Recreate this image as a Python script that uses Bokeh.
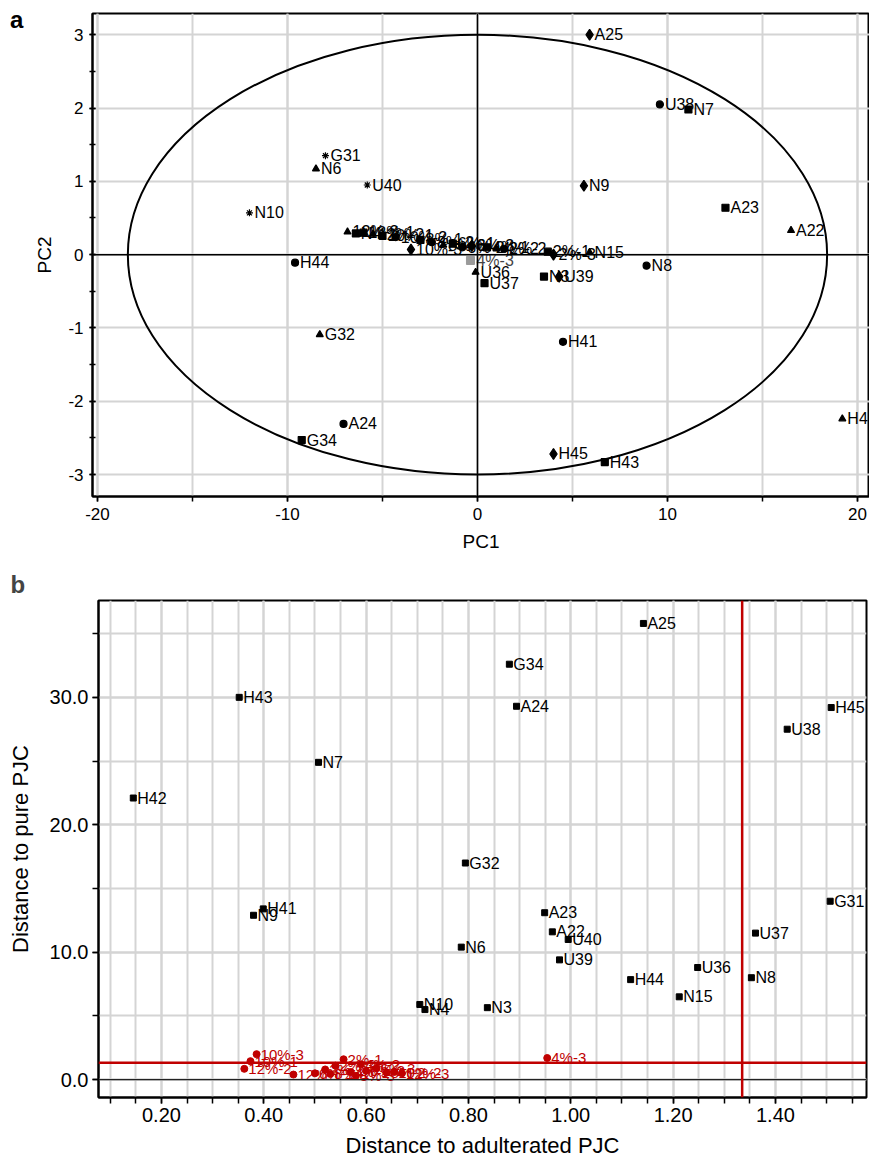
from bokeh.plotting import figure
from bokeh.layouts import column, row
from bokeh.models import (ColumnDataSource, Span, Title, Div, SingleIntervalTicker,
                          NumeralTickFormatter, Range1d)
from bokeh.embed import file_html
from bokeh.resources import INLINE
from bokeh.core.properties import value

FONT = "Liberation Sans"
RED = "#c00000"
GRID = "#d4d4d4"

# ---------------- panel a : PCA scores ----------------
pca_names = ["A25", "U38", "N7", "N9", "A23", "A22", "G31", "N6", "U40", "N10",
             "H44", "G32", "A24", "G34", "N8", "H41", "H45", "H43", "H42", "U36",
             "U37", "N3", "U39", "N4", "N15"]
pca_pc1 = [5.9, 9.6, 11.1, 5.6, 13.05, 16.5, -8.0, -8.5, -5.8, -12.0,
           -9.6, -8.3, -7.05, -9.25, 8.9, 4.5, 4.0, 6.7, 19.2, -0.1,
           0.37, 3.5, 4.3, -6.4, 5.9]
pca_pc2 = [3.0, 2.05, 1.98, 0.94, 0.64, 0.33, 1.35, 1.17, 0.95, 0.57,
           -0.11, -1.09, -2.31, -2.53, -0.15, -1.19, -2.72, -2.83, -2.24, -0.24,
           -0.39, -0.30, -0.30, 0.29, 0.03]

adult_names = ["12%-3", "12%-1", "12%-2", "10%-1", "10%-2", "10%-3", "8%-1", "8%-2",
               "8%-3", "6%-1", "6%-2", "6%-3", "4%-1", "4%-2", "2%-2", "2%-1", "2%-3"]
adult_pc1 = [-6.84, -6.0, -5.5, -5.0, -4.3, -3.5, -3.0, -2.4,
             -1.8, -1.3, -0.8, -0.3, 0.5, 1.0, 1.4, 3.7, 4.0]
adult_pc2 = [0.31, 0.30, 0.28, 0.26, 0.24, 0.07, 0.20, 0.17,
             0.13, 0.15, 0.10, 0.12, 0.10, 0.08, 0.08, 0.04, 0.0]

check_name = ["4%-3"]
check_pc1 = [-0.37]
check_pc2 = [-0.08]

# Hotelling T2 ellipse semi-axes
ellipse_pc1 = 18.4
ellipse_pc2 = 3.0

# marker styles (kept apart from the data)
pca_marker_style = ["diamond", "circle", "square", "diamond", "square", "triangle",
                    "asterisk", "triangle", "asterisk", "asterisk", "circle", "triangle",
                    "circle", "square", "circle", "circle", "diamond", "square",
                    "triangle", "triangle", "square", "square", "diamond", "square",
                    "triangle"]
adult_marker_style = ["triangle", "square", "triangle", "square", "circle", "diamond",
                      "square", "circle", "triangle", "square", "circle", "diamond",
                      "square", "triangle", "circle", "square", "diamond"]
marker_size = {"diamond": 11, "circle": 7, "square": 7, "triangle": 7, "asterisk": 7}

# ---------------- panel b : distances ----------------
dist_names = ["A25", "G34", "A24", "H45", "U38", "H43", "N7", "H42", "G32", "H41",
              "N9", "A23", "A22", "U40", "N6", "U39", "G31", "U37", "U36", "H44",
              "N8", "N15", "N3", "N10", "N4"]
dist_adulterated = [1.142, 0.880, 0.894, 1.509, 1.423, 0.352, 0.507, 0.145, 0.794, 0.399,
                    0.380, 0.949, 0.964, 0.995, 0.786, 0.978, 1.507, 1.361, 1.248, 1.117,
                    1.353, 1.212, 0.837, 0.705, 0.715]
dist_pure = [35.8, 32.6, 29.3, 29.2, 27.5, 30.0, 24.9, 22.1, 17.0, 13.4,
             12.9, 13.1, 11.6, 11.0, 10.4, 9.4, 14.0, 11.5, 8.8, 7.85,
             8.0, 6.5, 5.65, 5.9, 5.5]

adist_names = ["10%-3", "10%-1", "12%-2", "12%-1", "2%-1", "4%-3", "2%-2", "2%-3",
               "4%-1", "4%-2", "6%-1", "6%-2", "6%-3", "8%-1", "8%-2", "8%-3",
               "10%-2", "12%-3"]
adist_adulterated = [0.386, 0.374, 0.362, 0.458, 0.556, 0.954, 0.52, 0.54,
                     0.57, 0.59, 0.50, 0.60, 0.62, 0.53, 0.64, 0.58, 0.655, 0.67]
adist_pure = [2.0, 1.45, 0.85, 0.4, 1.6, 1.7, 0.8, 1.1,
              0.6, 1.2, 0.5, 0.7, 0.9, 0.45, 0.55, 0.3, 0.6, 0.5]

limit_pure = 1.33
limit_adulterated = 1.335


def style_axes(p, tick_size, title_size):
    p.outline_line_color = "black"
    p.outline_line_width = 2
    p.outline_line_alpha = 1
    p.background_fill_color = "white"
    p.border_fill_color = "white"
    for ax in (p.xaxis[0], p.yaxis[0]):
        ax.axis_line_color = "black"
        ax.axis_line_width = 2
        ax.major_tick_line_color = "black"
        ax.minor_tick_line_color = "black"
        ax.major_tick_line_width = 1.5
        ax.minor_tick_line_width = 1.5
        ax.major_label_text_font = FONT
        ax.major_label_text_font_size = tick_size
        ax.major_label_text_color = "black"
        ax.axis_label_text_font = FONT
        ax.axis_label_text_font_size = title_size
        ax.axis_label_text_font_style = "normal"
        ax.axis_label_text_color = "black"
    p.xgrid.grid_line_color = GRID
    p.ygrid.grid_line_color = GRID
    p.xgrid.grid_line_width = 2
    p.ygrid.grid_line_width = 2


# ---------------- figure a ----------------
pa = figure(width=839, height=556, x_range=Range1d(-20.26, 20.63),
            y_range=Range1d(-3.30, 3.29), output_backend="svg",
            toolbar_location=None, min_border_left=62, min_border_right=0,
            min_border_top=13, min_border_bottom=60)
style_axes(pa, "17px", "19px")
pa.xaxis.axis_label = "PC1"
pa.yaxis.axis_label = "PC2"
pa.xaxis.ticker = SingleIntervalTicker(interval=10, num_minor_ticks=2)
pa.xgrid.ticker = SingleIntervalTicker(interval=10, num_minor_ticks=2)
pa.xgrid.minor_grid_line_color = GRID
pa.xgrid.minor_grid_line_width = 2
pa.yaxis.ticker = SingleIntervalTicker(interval=1, num_minor_ticks=2)
pa.ygrid.ticker = SingleIntervalTicker(interval=1, num_minor_ticks=2)
pa.xaxis.formatter = NumeralTickFormatter(format="0")
pa.yaxis.formatter = NumeralTickFormatter(format="0")
pa.xaxis.major_tick_in = 0
pa.xaxis.major_tick_out = 5
pa.xaxis.minor_tick_in = 0
pa.xaxis.minor_tick_out = 5
pa.yaxis.major_tick_in = 3
pa.yaxis.major_tick_out = 3
pa.yaxis.minor_tick_in = 3
pa.yaxis.minor_tick_out = 3
pa.xaxis.major_label_standoff = 6
pa.yaxis.major_label_standoff = 6
pa.xaxis.axis_label_standoff = 8
pa.yaxis.axis_label_standoff = 10

pa.add_layout(Span(location=0, dimension="width", line_color="black", line_width=1.5))
pa.add_layout(Span(location=0, dimension="height", line_color="black", line_width=1.5))

pa.ellipse(x=[0], y=[0], width=[2 * ellipse_pc1], height=[2 * ellipse_pc2],
           fill_color=None, line_color="black", line_width=2)

src_a = ColumnDataSource(dict(x=pca_pc1, y=pca_pc2, name=pca_names, m=pca_marker_style,
                              s=[marker_size[m] for m in pca_marker_style]))
src_ad = ColumnDataSource(dict(x=adult_pc1, y=adult_pc2, name=adult_names, m=adult_marker_style,
                               s=[marker_size[m] for m in adult_marker_style]))
src_chk = ColumnDataSource(dict(x=check_pc1, y=check_pc2, name=check_name))

for src in (src_ad, src_a):
    pa.scatter(x="x", y="y", marker="m", size="s", fill_color="black",
               line_color="black", line_width=1.2, source=src)
    pa.text(x="x", y="y", text="name", x_offset=5, text_baseline="middle",
            text_font=value(FONT), text_font_size=value("16px"),
            text_color="black", source=src)
pa.scatter(x="x", y="y", marker="square", size=8, fill_color="#9a9a9a",
           line_color="#9a9a9a", source=src_chk)
pa.text(x="x", y="y", text="name", x_offset=6, text_baseline="middle",
        text_font=value(FONT), text_font_size=value("16px"),
        text_color="#444444", source=src_chk)

div_a = Div(text='<span style="font-family: \'Liberation Sans\', Arial, sans-serif; '
                 'font-size: 24px; font-weight: bold; line-height: 24px;">a</span>',
            width=20, height=546, margin=(8, 0, 0, 10))

# ---------------- figure b ----------------
pb = figure(width=869, height=610, x_range=Range1d(0.077, 1.578),
            y_range=Range1d(-1.4, 37.6), output_backend="svg",
            toolbar_location=None, min_border_left=98, min_border_right=3,
            min_border_top=44, min_border_bottom=69)
pb.title = Title(text="b", align="left", offset=-88, text_font=FONT,
                 text_font_size="24px", text_font_style="bold", standoff=6)
style_axes(pb, "20px", "22px")
pb.xaxis.axis_label = "Distance to adulterated PJC"
pb.yaxis.axis_label = "Distance to pure PJC"
pb.xaxis.ticker = SingleIntervalTicker(interval=0.2, num_minor_ticks=4)
pb.xgrid.ticker = SingleIntervalTicker(interval=0.2, num_minor_ticks=4)
pb.yaxis.ticker = SingleIntervalTicker(interval=10, num_minor_ticks=2)
pb.ygrid.ticker = SingleIntervalTicker(interval=10, num_minor_ticks=2)
pb.xgrid.minor_grid_line_color = GRID
pb.ygrid.minor_grid_line_color = GRID
pb.xgrid.minor_grid_line_width = 2
pb.ygrid.minor_grid_line_width = 2
pb.xaxis.formatter = NumeralTickFormatter(format="0.00")
pb.yaxis.formatter = NumeralTickFormatter(format="0.0")
for ax in (pb.xaxis[0], pb.yaxis[0]):
    ax.major_tick_in = 0
    ax.major_tick_out = 6
    ax.minor_tick_in = 0
    ax.minor_tick_out = 6
pb.xaxis.major_label_standoff = 4
pb.yaxis.major_label_standoff = 4
pb.xaxis.axis_label_standoff = 8
pb.yaxis.axis_label_standoff = 14

pb.add_layout(Span(location=0, dimension="width", line_color="#222222", line_width=1.2))
pb.add_layout(Span(location=limit_pure, dimension="width", line_color=RED, line_width=2.5))
pb.add_layout(Span(location=limit_adulterated, dimension="height", line_color=RED, line_width=2.5))

src_b = ColumnDataSource(dict(x=dist_adulterated, y=dist_pure, name=dist_names))
src_br = ColumnDataSource(dict(x=adist_adulterated, y=adist_pure, name=adist_names))

pb.scatter(x="x", y="y", marker="circle", size=7, fill_color=RED, line_color=RED, source=src_br)
pb.text(x="x", y="y", text="name", x_offset=4, text_baseline="middle",
        text_font=value(FONT), text_font_size=value("15px"), text_color=RED, source=src_br)
pb.scatter(x="x", y="y", marker="square", size=6, fill_color="black", line_color="black", source=src_b)
pb.text(x="x", y="y", text="name", x_offset=4, text_baseline="middle",
        text_font=value(FONT), text_font_size=value("16px"), text_color="black", source=src_b)

layout = column(row(div_a, pa, spacing=0), pb, spacing=0)
open("out.html", "w").write(file_html(layout, INLINE))
